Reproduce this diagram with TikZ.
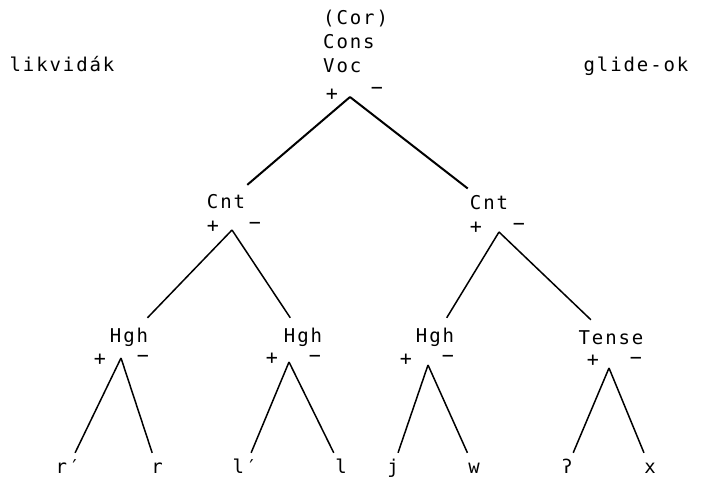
\documentclass[tikz,border=0pt]{standalone}
\usepackage{fontspec}
\setmainfont{DejaVu Sans Mono}[LetterSpace=10]

\begin{document}
\begin{tikzpicture}[x=1pt, y=-1pt,
		feat/.style={font=\fontsize{19}{24}\selectfont, anchor=base, text height=13pt, text depth=3pt, inner xsep=2pt, inner ysep=11pt},
		sign/.style={font=\fontsize{20}{20}\selectfont, inner sep=0pt},
		leaf/.style={font=\fontsize{19}{19}\selectfont, anchor=base, text height=11pt, text depth=0pt, inner xsep=2pt, inner ysep=9pt},
		br/.style={line width=1.5pt}]
				\useasboundingbox (0,0) rectangle (703,478);
				\node[feat, anchor=north west, align=left, inner sep=2pt, text height=, text depth=] (top)at(321, 8) {(Cor)\\Cons\\Voc};
				\node[feat, anchor=center] (liq)at(62, 67) {likvidák};
				\node[feat, anchor=center] (gli)at(636, 67) {glide-ok};
				\coordinate (a0)at(350, 97);
				\node[sign] (p0)at(332, 95) {+};
				\node[sign] (m0)at(377, 91) {−};
				\node[feat] (cnt1)at(226, 208) {Cnt};
				\node[feat] (cnt2)at(489, 210) {Cnt};
				\draw[br, line width=2pt] (a0) -- (cnt1);
				\draw[br, line width=2pt] (a0) -- (cnt2);
				\coordinate (c1)at(232, 230);
				\node[sign] (p1)at(213, 227) {+};
				\node[sign] (m1)at(255, 226) {−};
				\coordinate (c2)at(499, 232);
				\node[sign] (p2)at(476, 228) {+};
				\node[sign] (m2)at(519, 227) {−};
				\node[feat] (hgh1)at(129, 342) {Hgh};
				\node[feat] (hgh2)at(303, 342) {Hgh};
				\node[feat] (hgh3)at(435, 342) {Hgh};
				\node[feat] (tense)at(611, 344) {Tense};
				\draw[br] (c1) -- (hgh1);
				\draw[br] (c1) -- (hgh2);
				\draw[br] (c2) -- (hgh3);
				\draw[br] (c2) -- (tense);
				\coordinate (h1)at(121, 358);
				\node[sign] (p3)at(100, 360) {+};
				\node[sign] (m3)at(143, 359) {−};
				\coordinate (h2)at(289, 362);
				\node[sign] (p4)at(272, 359) {+};
				\node[sign] (m4)at(315, 359) {−};
				\coordinate (h3)at(428, 365);
				\node[sign] (p5)at(406, 360) {+};
				\node[sign] (m5)at(448, 359) {−};
				\coordinate (t)at(609, 368);
				\node[sign] (p6)at(593, 361) {+};
				\node[sign] (m6)at(636, 361) {−};
				\node[leaf] (rp)at(68, 473) {r′};
				\node[leaf] (r)at(157, 473) {r};
				\node[leaf] (lp)at(245, 473) {l′};
				\node[leaf] (l)at(341, 473) {l};
				\node[leaf] (j)at(393, 473) {j};
				\node[leaf] (w)at(474, 473) {w};
				\node[leaf] (q)at(567, 473) {ʔ};
				\node[leaf] (x)at(650, 473) {x};
				\draw[br] (h1) -- (rp);
				\draw[br] (h1) -- (r);
				\draw[br] (h2) -- (lp);
				\draw[br] (h2) -- (l);
				\draw[br] (h3) -- (j);
				\draw[br] (h3) -- (w);
				\draw[br] (t) -- (q);
				\draw[br] (t) -- (x);
			\end{tikzpicture}
\end{document}
